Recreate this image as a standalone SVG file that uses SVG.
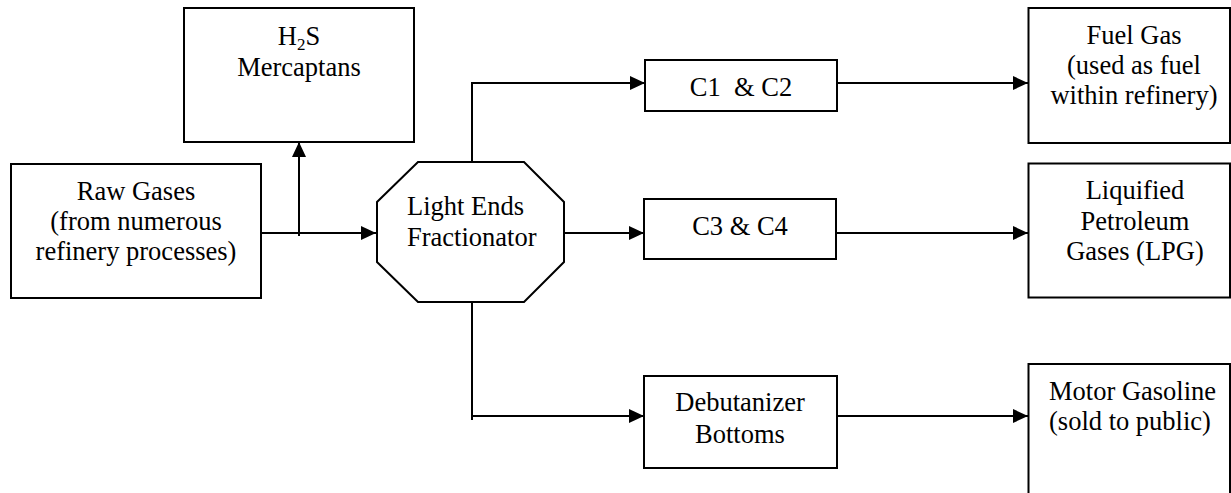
<svg xmlns="http://www.w3.org/2000/svg" width="1231" height="493" viewBox="0 0 1231 493">
<style>
.box{fill:#fff;stroke:#000;stroke-width:2}
.ln{fill:none;stroke:#000;stroke-width:2}
.c{text-anchor:middle}
</style>
<defs>
<marker id="ah" markerUnits="userSpaceOnUse" markerWidth="16" markerHeight="14" refX="15" refY="7" orient="auto">
<path d="M0,0 L15,7 L0,14 z" fill="#000"/>
</marker>
</defs>
<rect width="1231" height="493" fill="#fff"/>
<g id="connectors">
<path class="ln" d="M261,233 H376" marker-end="url(#ah)"/>
<path class="ln" d="M299,236 V142" marker-end="url(#ah)"/>
<path class="ln" d="M472,162 V83 H645" marker-end="url(#ah)"/>
<path class="ln" d="M564,233 H644" marker-end="url(#ah)"/>
<path class="ln" d="M472,302 V420"/>
<path class="ln" d="M472,416 H644" marker-end="url(#ah)"/>
<path class="ln" d="M837,83 H1028" marker-end="url(#ah)"/>
<path class="ln" d="M836,233 H1028" marker-end="url(#ah)"/>
<path class="ln" d="M837,416 H1028" marker-end="url(#ah)"/>
</g>
<g font-family="'Liberation Serif', 'DejaVu Serif', serif" font-size="26.5" fill="#000">
<g id="h2s">
<rect class="box" x="184" y="8" width="230" height="134"/>
<text class="c" x="299" y="45">H<tspan font-size="17" dy="5">2</tspan><tspan dy="-5">S</tspan></text>
<text class="c" x="299" y="76">Mercaptans</text>
</g>
<g id="raw">
<rect class="box" x="11" y="164" width="250" height="134"/>
<text class="c" x="136" y="200">Raw Gases</text>
<text class="c" x="136" y="230">(from numerous</text>
<text class="c" x="136" y="260">refinery processes)</text>
</g>
<g id="fractionator">
<polygon class="box" points="418,162 524,162 564,202 564,262 524,302 418,302 377,262 377,202"/>
<text x="407" y="215">Light Ends</text>
<text x="407" y="246">Fractionator</text>
</g>
<g id="c1c2">
<rect class="box" x="645" y="60" width="192" height="51"/>
<text class="c" x="741" y="96" xml:space="preserve">C1  &amp; C2</text>
</g>
<g id="c3c4">
<rect class="box" x="644" y="199" width="192" height="60"/>
<text class="c" x="740" y="235">C3 &amp; C4</text>
</g>
<g id="debutanizer">
<rect class="box" x="644" y="376" width="193" height="92"/>
<text class="c" x="740" y="411">Debutanizer</text>
<text class="c" x="740" y="443">Bottoms</text>
</g>
<g id="fuelgas">
<rect class="box" x="1028.5" y="8" width="201.5" height="135"/>
<text class="c" x="1134" y="44">Fuel Gas</text>
<text class="c" x="1134" y="74">(used as fuel</text>
<text class="c" x="1134" y="104">within refinery)</text>
</g>
<g id="lpg">
<rect class="box" x="1028.5" y="163.5" width="201.5" height="134"/>
<text class="c" x="1135" y="199">Liquified</text>
<text class="c" x="1135" y="230">Petroleum</text>
<text class="c" x="1135" y="260">Gases (LPG)</text>
</g>
<g id="motorgasoline">
<rect class="box" x="1028.5" y="364" width="201.5" height="140"/>
<text x="1049" y="400">Motor Gasoline</text>
<text x="1049" y="430">(sold to public)</text>
</g>
</g>
</svg>
